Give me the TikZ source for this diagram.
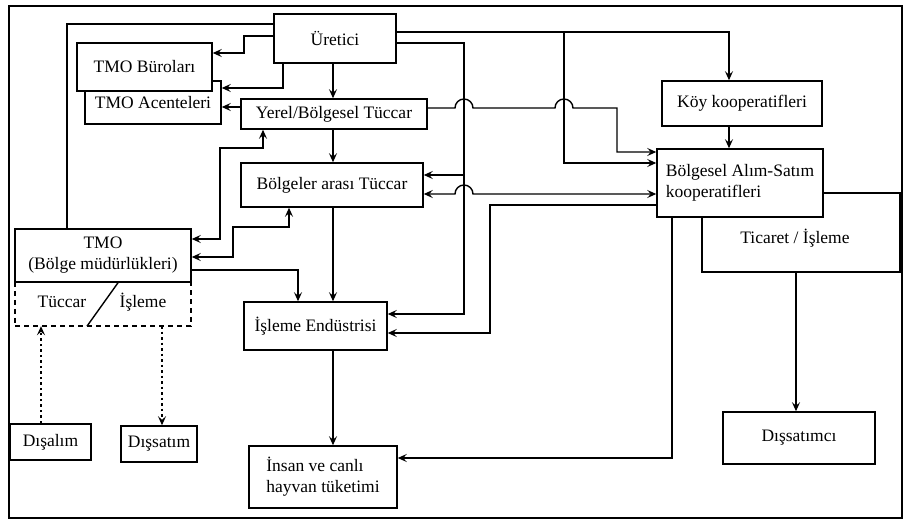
\documentclass[tikz,border=0pt]{standalone}
\usepackage{fontspec}
\setmainfont{Liberation Serif}
\usetikzlibrary{arrows.meta}
\begin{document}
\begin{tikzpicture}[x=1pt,y=-1pt,
  every node/.style={font=\fontsize{17.5}{21}\selectfont},
  box/.style={draw, line width=1.5pt, fill=white, inner sep=0pt, align=center},
  conn/.style={line width=1.4pt},
  arr/.style={conn, -{Stealth[length=9pt,width=8pt,inset=3.5pt]}},
  arrb/.style={conn, {Stealth[length=9pt,width=8pt,inset=3.5pt]}-{Stealth[length=9pt,width=8pt,inset=3.5pt]}},
  dotarr/.style={arr, line width=1.8pt, dash pattern=on 2.5pt off 3pt},
]
\useasboundingbox (0,0) rectangle (906,521);
\draw[line width=1.5pt] (9,6) rectangle (902,518);

% nodes
\node[box, minimum width=122pt, minimum height=49pt] (uretici) at (335,38.5) {Üretici};
\node[box, minimum width=136pt, minimum height=43pt] (acente) at (153,102.5) {TMO Acenteleri};
\node[box, minimum width=135pt, minimum height=48pt] (buro) at (144.5,67) {TMO Büroları};
\node[box, minimum width=186pt, minimum height=30pt] (yerel) at (334,114) {Yerel/Bölgesel Tüccar};
\node[box, minimum width=182pt, minimum height=44pt] (bolgeler) at (332,185) {Bölgeler arası Tüccar};
\node[box, minimum width=176pt, minimum height=53pt] (tmo) at (103,255.5) {TMO\\(Bölge müdürlükleri)};
\node[minimum width=176pt, minimum height=44pt, inner sep=0pt] (ext) at (103,304) {};
\node (tuccar) at (62,302) {Tüccar};
\node (isl) at (143,302) {İşleme};
\node[box, minimum width=143pt, minimum height=48pt] (isleme) at (315.5,326) {İşleme Endüstrisi};
\node[box, minimum width=148pt, minimum height=62pt, align=left] (insan) at (323,477) {İnsan ve canlı\\hayvan tüketimi};
\node[box, minimum width=81pt, minimum height=36pt] (disalim) at (50.5,442) {Dışalım};
\node[box, minimum width=76pt, minimum height=36pt] (dissatim) at (159,444) {Dışsatım};
\node[box, minimum width=160pt, minimum height=45pt] (koy) at (742,103.5) {Köy kooperatifleri};
\node[box, minimum width=198pt, minimum height=79pt] (ticaret) at (801,232.5) {};
\node (ticlabel) at (795,238) {Ticaret / İşleme};
\node[box, minimum width=166pt, minimum height=68pt, align=left] (bolgesel) at (740,183) {Bölgesel Alım-Satım\\kooperatifleri};
\node[box, minimum width=152pt, minimum height=52pt] (dissatimci) at (799,438) {Dışsatımcı};

% dashed extension of TMO
\draw[line width=1.8pt, dash pattern=on 5pt off 4pt] (ext.north west) |- (ext.south east) -- (ext.north east);
\draw[conn] (tmo.south -| 118,0) -- (ext.south -| 87,0);

% connectors
\coordinate (j1) at (564,32);
\coordinate (j2) at (464,175);
\draw[conn] (uretici.west |- 0,24) -| (tmo.north -| 67,0);
\draw[arr] (uretici.west |- 0,36) -- (244,36) |- (buro.east |- 0,53);
\draw[arr] (uretici.south -| 283,0) |- (acente.east |- 0,88);
\draw[arr] (yerel.west |- 0,107) -- (acente.east |- 0,107);
\draw[arr] (uretici.south -| 333,0) -- (yerel.north -| 333,0);
\draw[arr] (yerel.south -| 333,0) -- (bolgeler.north -| 333,0);
\draw[arr] (bolgeler.south -| 333,0) -- (isleme.north -| 333,0);
\draw[arr] (isleme.south -| 333,0) -- (insan.north -| 333,0);
\draw[arrb] (tmo.east |- 0,239) -| (220,148) -| (yerel.south -| 263,0);
\draw[arrb] (tmo.east |- 0,257) -| (233,227) -| (bolgeler.south -| 289,0);
\draw[arr] (tmo.east |- 0,270) -| (isleme.north -| 298,0);
\draw[dotarr] (disalim.north -| 41,0) -- (ext.south -| 41,0);
\draw[dotarr] (ext.south -| 162,0) -- (dissatim.north -| 162,0);

\draw[arr, line width=2.4pt] (uretici.east |- 0,32) -| (koy.north -| 729,0);
\draw[arr] (j1) |- (bolgesel.west |- 0,163);
\draw[arr] (uretici.east |- 0,43) -| (464,314) -- (isleme.east |- 0,314);
\draw[arr] (j2) -- (bolgeler.east |- 0,175);
\draw[arr] (yerel.east |- 0,108) -- (455,108) arc[start angle=180, end angle=0, radius=9pt]
   -- (555,108) arc[start angle=180, end angle=0, radius=9pt] -- (617,108) |- (bolgesel.west |- 0,152);
\draw[arrb] (bolgeler.east |- 0,194) -- (455,194) arc[start angle=180, end angle=0, radius=9pt] -- (bolgesel.west |- 0,194);
\draw[arr] (bolgesel.west |- 0,205) -| (490,333) -- (isleme.east |- 0,333);
\draw[arr] (bolgesel.south -| 672,0) |- (insan.east |- 0,458);
\draw[arr] (koy.south -| 729,0) -- (bolgesel.north -| 729,0);
\draw[arr] (ticaret.south -| 796,0) -- (dissatimci.north -| 796,0);
\end{tikzpicture}
\end{document}
